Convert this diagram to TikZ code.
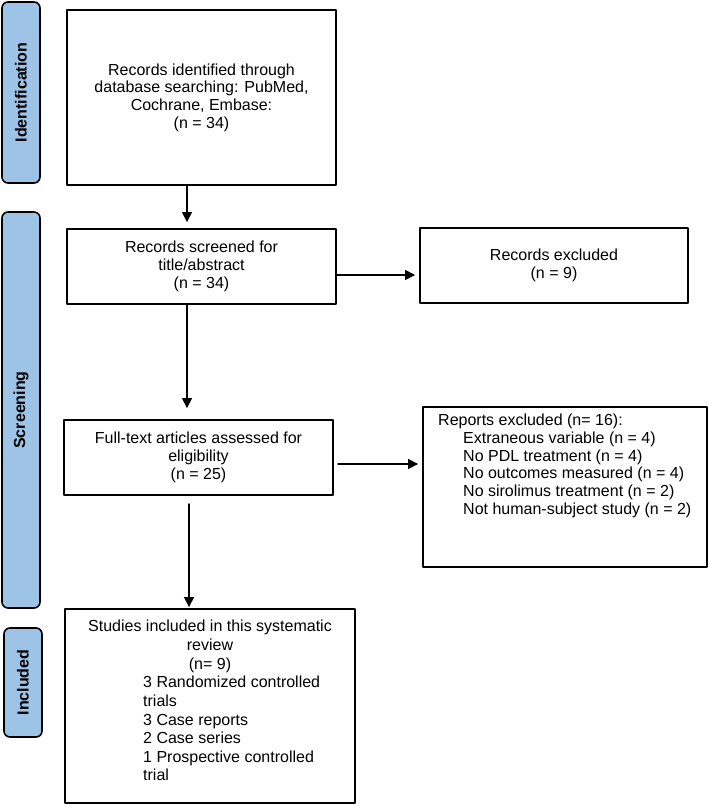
\documentclass[tikz,border=0pt]{standalone}
\usepackage{fontspec}
\setmainfont{Liberation Sans}
\usetikzlibrary{arrows.meta}

\definecolor{stageblue}{RGB}{157,195,230}

\begin{document}
\begin{tikzpicture}[x=1pt, y=-1pt, line cap=round, line join=round, >={Triangle[length=10pt,width=10pt]},
  every node/.style={font=\fontsize{16}{17.7}\selectfont},
  stage/.style={draw, line width=1.6pt, fill=stageblue, rounded corners=6pt, rotate=90,
    minimum height=38pt, inner sep=0pt, font=\fontsize{16}{17.7}\selectfont\bfseries},
  box/.style={draw, line width=1.8pt, inner sep=0pt, align=center},
  flow/.style={->, line width=1.1pt}]
  \useasboundingbox (0,0) rectangle (709,806);

  % Stage bars on the left.
  \node[stage, minimum width=181pt] (ident) at (21,92.5) {Identification};
  \node[stage, minimum width=396pt] (screen) at (21,410) {Screening};
  \node[stage, minimum width=109pt] (incl) at (23,682.5) {Included};

  % Main column.
  \node[box, minimum width=269pt, minimum height=175pt] (idbox) at (201.5,97.5)
    {Records identified through\\database searching: PubMed,\\Cochrane, Embase:\\(n = 34)};
  \node[box, minimum width=269pt, minimum height=75pt] (scrbox) at (201.5,266.5)
    {Records screened for\\title/abstract\\(n = 34)};
  \node[box, minimum width=269pt, minimum height=75pt] (fullbox) at (198.5,457.5)
    {Full-text articles assessed for\\eligibility\\(n = 25)};

  % Included studies, heading centred and list set flush left.
  \node[box, minimum width=290pt, minimum height=194pt] (inclbox) at (210,706) {};
  \node[anchor=north, inner sep=0pt, align=center, font=\fontsize{16}{18.6}\selectfont] (inclhead) at (210,620)
    {Studies included in this systematic\\review\\(n= 9)};
  \node[anchor=north west, inner sep=0pt, align=left, font=\fontsize{16}{18.6}\selectfont] (incllist) at (143,676)
    {3 Randomized controlled\\trials\\3 Case reports\\2 Case series\\1 Prospective controlled\\trial};

  % Exclusion boxes on the right.
  \node[box, minimum width=268pt, minimum height=75pt] (recexcl) at (554,265.5)
    {Records excluded\\(n = 9)};
  \node[box, minimum width=284pt, minimum height=160pt] (repexcl) at (565,487) {};
  \node[anchor=north west, inner sep=0pt, align=left] (repnote) at (438,414)
    {Reports excluded (n= 16):\\
     \hspace*{25pt}Extraneous variable (n = 4)\\
     \hspace*{25pt}No PDL treatment (n = 4)\\
     \hspace*{25pt}No outcomes measured (n = 4)\\
     \hspace*{25pt}No sirolimus treatment (n = 2)\\
     \hspace*{25pt}Not human-subject study (n = 2)};

  % Arrows.
  \draw[flow, shorten >=6pt] ([xshift=-14.5pt]idbox.south) -- ([xshift=-14.5pt]idbox.south |- scrbox.north);
  \draw[flow, shorten >=11pt] ([xshift=-14.5pt]scrbox.south) -- ([xshift=-14.5pt]scrbox.south |- fullbox.north);
  \draw[flow, shorten <=8pt, shorten >=1pt] ([xshift=-9.5pt]fullbox.south) -- ([xshift=-9.5pt]fullbox.south |- inclbox.north);
  \draw[flow, shorten >=4pt] ([yshift=-8.5pt]scrbox.east) -- ([yshift=-8.5pt]scrbox.east -| recexcl.west);
  \draw[flow, shorten <=4pt, shorten >=4pt] ([yshift=-6.5pt]fullbox.east) -- ([yshift=-6.5pt]fullbox.east -| repexcl.west);

\end{tikzpicture}
\end{document}
